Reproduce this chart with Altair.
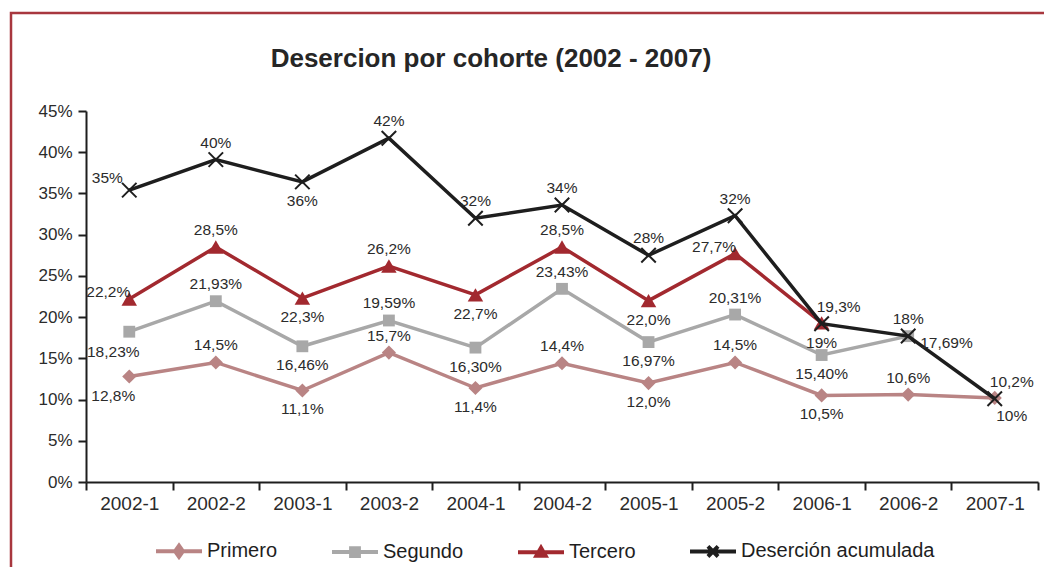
import altair as alt
import pandas as pd

# ---------------- data ----------------
periodos = ["2002-1", "2002-2", "2003-1", "2003-2", "2004-1", "2004-2",
            "2005-1", "2005-2", "2006-1", "2006-2", "2007-1"]
series = ["Primero", "Segundo", "Tercero", "Deserción acumulada"]

primero = [12.8, 14.5, 11.1, 15.7, 11.4, 14.4, 12.0, 14.5, 10.5, 10.6, 10.2]
primero_lbl = ["12,8%", "14,5%", "11,1%", "15,7%", "11,4%", "14,4%",
               "12,0%", "14,5%", "10,5%", "10,6%", "10,2%"]

segundo = [18.23, 21.93, 16.46, 19.59, 16.30, 23.43, 16.97, 20.31, 15.40, 17.69]
segundo_lbl = ["18,23%", "21,93%", "16,46%", "19,59%", "16,30%", "23,43%",
               "16,97%", "20,31%", "15,40%", "17,69%"]

tercero = [22.2, 28.5, 22.3, 26.2, 22.7, 28.5, 22.0, 27.7, 19.3]
tercero_lbl = ["22,2%", "28,5%", "22,3%", "26,2%", "22,7%", "28,5%",
               "22,0%", "27,7%", "19,3%"]

acumulada = [35.4, 39.1, 36.4, 41.7, 32.0, 33.6, 27.5, 32.3, 19.2, 17.7, 10.1]
acumulada_lbl = ["35%", "40%", "36%", "42%", "32%", "34%", "28%", "32%",
                 "19%", "18%", "10%"]

y_ticks = [0, 5, 10, 15, 20, 25, 30, 35, 40, 45]

# label placement (style) per point
primero_pos = ["bl", "a", "b", "a", "b", "a", "b", "a", "b", "a", "ar"]
segundo_pos = ["bl", "a", "b", "a", "b", "a", "b", "a", "b", "r"]
tercero_pos = ["l", "a", "b", "a", "b", "a", "b", "l", "ar"]
acumulada_pos = ["al", "a", "b", "a", "a", "a", "a", "a", "b", "a", "br"]

offsets = {
    "a": (0, -17, "center"),
    "b": (0, 19, "center"),
    "l": (-21, -7, "center"),
    "al": (-22, -12, "center"),
    "bl": (-16, 20, "center"),
    "ar": (17, -16, "center"),
    "br": (17, 17, "center"),
    "r": (12, 7, "left"),
}

colors = ["#B98484", "#A8A8A8", "#A2292F", "#1E1E1E"]

rows = []
for name, vals, lbls, poss in [
    ("Primero", primero, primero_lbl, primero_pos),
    ("Segundo", segundo, segundo_lbl, segundo_pos),
    ("Tercero", tercero, tercero_lbl, tercero_pos),
    ("Deserción acumulada", acumulada, acumulada_lbl, acumulada_pos),
]:
    for p, v, l, q in zip(periodos, vals, lbls, poss):
        rows.append({"periodo": p, "serie": name, "valor": v,
                     "etiqueta": l, "pos": q})
df = pd.DataFrame(rows)

FONT = "Liberation Sans"

x_enc = alt.X("periodo:N", sort=periodos,
              scale=alt.Scale(type="band", domain=periodos,
                              paddingInner=0, paddingOuter=0),
              bandPosition=0.5,
              axis=alt.Axis(title=None, labelAngle=0, tickBand="extent",
                            labelFontSize=19, labelPadding=4))
y_enc = alt.Y("valor:Q",
              scale=alt.Scale(domain=[0, 45], nice=False, zero=True),
              axis=alt.Axis(title=None, values=y_ticks,
                            labelExpr="datum.value + '%'",
                            labelFontSize=17, labelPadding=6, grid=False))

base = alt.Chart(df)

marker_shapes = {
    "Primero": ("diamond", 200),
    "Segundo": ("square", 140),
    "Tercero": ("triangle-up", 240),
}

layers = []

# frame around the chart
frame = alt.Chart(pd.DataFrame({"k": [0]})).mark_rect(
    fill=None, stroke="#A8373E", strokeWidth=2.5
).encode(x=alt.value(-75), x2=alt.value(990),
         y=alt.value(-98), y2=alt.value(500))
layers.append(frame)

for s, c in zip(series, colors):
    sub = base.transform_filter(alt.datum.serie == s)
    layers.append(sub.mark_line(color=c, strokeWidth=3.5).encode(x=x_enc, y=y_enc))
    if s in marker_shapes:
        shp, sz = marker_shapes[s]
        layers.append(sub.mark_point(shape=shp, size=sz, filled=True,
                                     color=c, opacity=1).encode(x=x_enc, y=y_enc))
    else:
        layers.append(sub.mark_point(shape="M-1,-1L1,1M-1,1L1,-1", size=210,
                                     filled=False, stroke=c, strokeWidth=2,
                                     opacity=1).encode(x=x_enc, y=y_enc))

for code, (dx, dy, al) in offsets.items():
    layers.append(
        base.transform_filter(alt.datum.pos == code)
        .mark_text(dx=dx, dy=dy, align=al, baseline="middle",
                   fontSize=15.5, font=FONT, color="#2B2B2B")
        .encode(x=x_enc, y=y_enc, text="etiqueta:N")
    )

# legend-only layer
legend_paths = [
    "M-1,0L1,0M0,-0.24L0.17,0L0,0.24L-0.17,0Z",
    "M-1,0L1,0M-0.17,-0.17L0.17,-0.17L0.17,0.17L-0.17,0.17Z",
    "M-1,0L1,0M0,-0.2L0.2,0.15L-0.2,0.15Z",
    "M-1,0L1,0M-0.22,-0.22L0.22,0.22M-0.22,0.22L0.22,-0.22",
]
leg = alt.Legend(title=None, orient="none", direction="horizontal",
                 legendX=68, legendY=415, symbolSize=2116,
                 symbolStrokeWidth=4, labelFontSize=20, labelFont=FONT,
                 labelColor="#1E1E1E", labelOffset=3, columnPadding=46,
                 padding=0, labelLimit=400)
legend_layer = base.transform_filter("false").mark_point(
    filled=True, opacity=1
).encode(
    fill=alt.Fill("serie:N", scale=alt.Scale(domain=series, range=colors), legend=leg),
    stroke=alt.Stroke("serie:N", scale=alt.Scale(domain=series, range=colors), legend=leg),
    shape=alt.Shape("serie:N", scale=alt.Scale(domain=series, range=legend_paths), legend=leg),
)
layers.append(legend_layer)

chart = alt.layer(*layers).properties(
    width=952,
    height=371,
    title=alt.Title("Desercion por cohorte (2002 - 2007)", fontSize=26,
                    font=FONT, fontWeight="bold", color="#262626",
                    anchor="middle", dx=-71, offset=-60),
    autosize=alt.AutoSizeParams(type="none"),
    padding={"left": 78, "top": 103, "right": 6, "bottom": 85},
).configure_view(stroke=None).configure_axis(
    domainColor="#1E1E1E", domainWidth=2, tickColor="#1E1E1E", tickWidth=2,
    tickSize=8, labelColor="#2B2B2B", labelFont=FONT
)

chart.save("out.html", embed_options={"renderer": "svg", "actions": False})
